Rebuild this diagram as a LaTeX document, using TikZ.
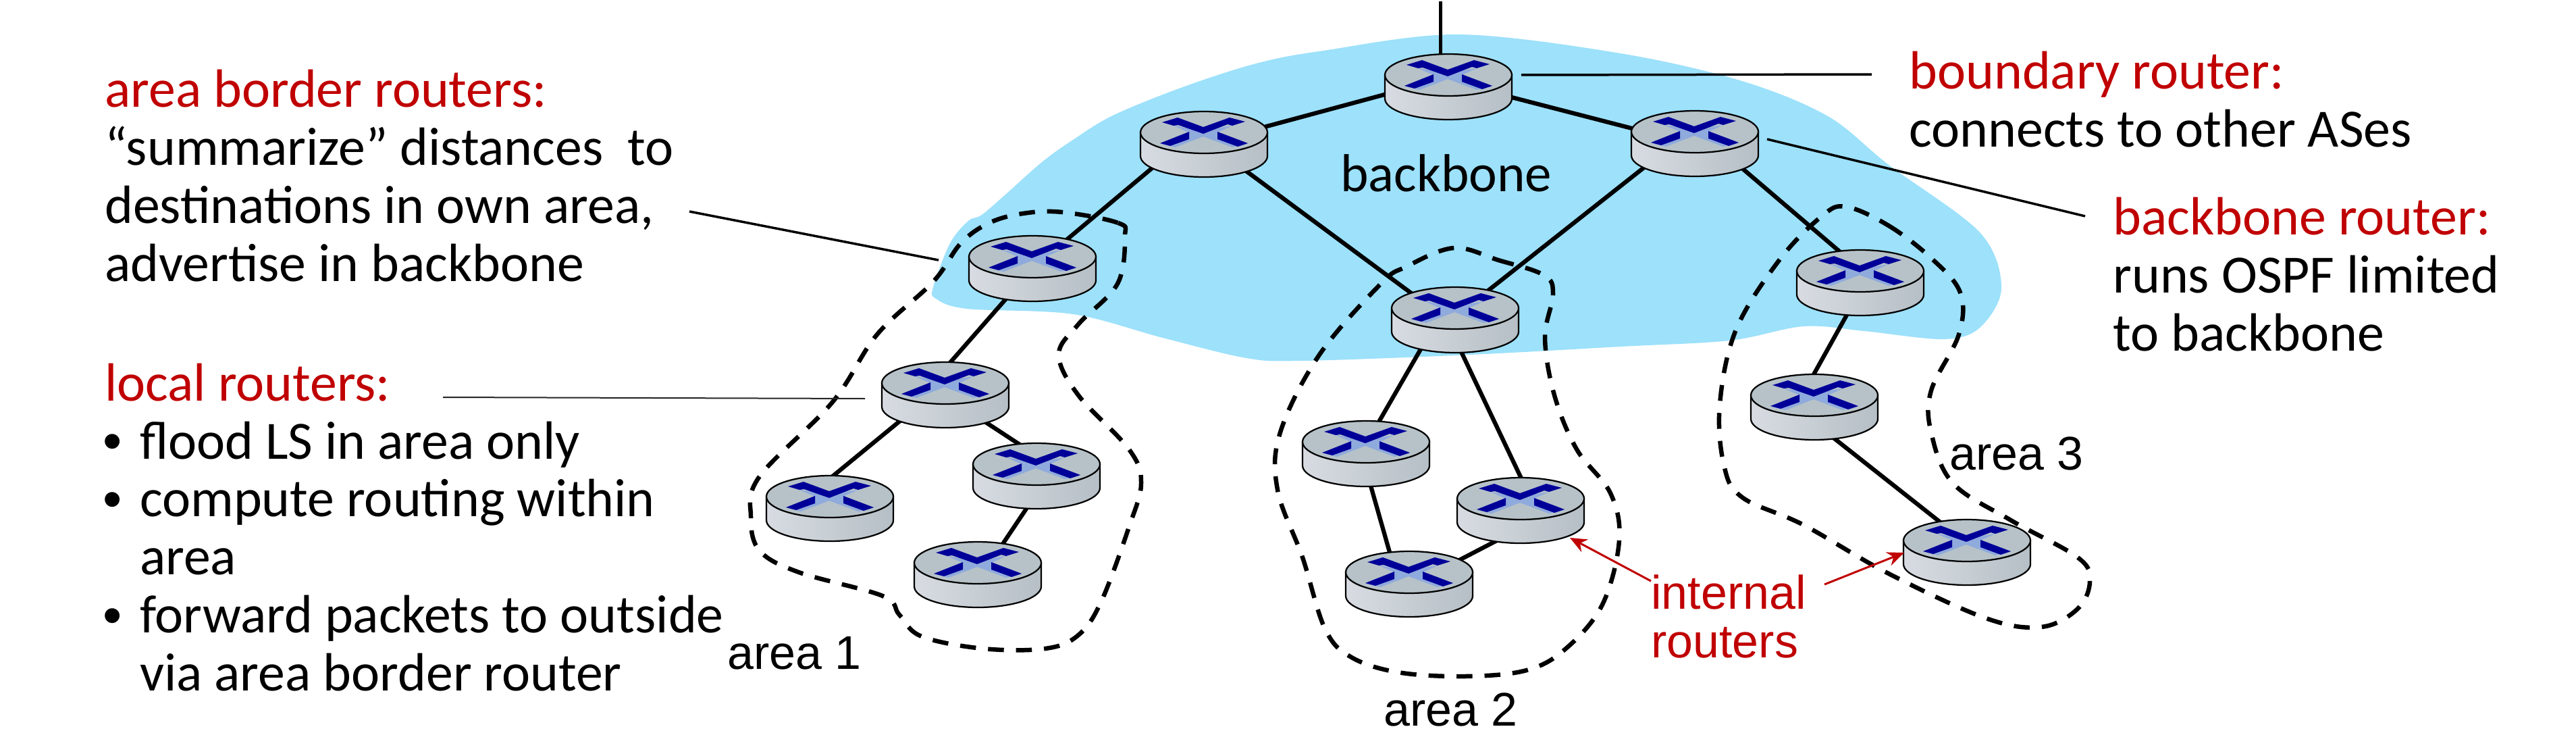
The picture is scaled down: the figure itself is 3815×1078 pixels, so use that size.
\documentclass[tikz,border=0pt]{standalone}
\usepackage{fontspec}
\setmainfont{Carlito}
\newfontfamily\arialf{Liberation Sans}
\usetikzlibrary{arrows.meta}
\definecolor{blobc}{HTML}{9DE1FB}
\definecolor{redt}{HTML}{C00000}
\definecolor{xdark}{HTML}{000099}
\definecolor{xlight}{HTML}{8FAADC}
\definecolor{rtop}{HTML}{B6C2C8}
\definecolor{rleft}{HTML}{D8DCE2}
\definecolor{rright}{HTML}{B5BFC5}
\tikzset{
  txt/.style={anchor=base west,inner sep=0pt,align=left,font=\fontsize{45.4}{48.8}\selectfont},
  lbl/.style={anchor=base west,inner sep=0pt,align=left,font=\arialf\fontsize{39.8}{40.8}\selectfont},
  lnk/.style={line width=0.125cm,black},
  leader/.style={line width=0.07cm,black},
  thinleader/.style={line width=0.04cm,black!85},
  area/.style={line width=0.13cm,black,dash pattern=on 0.47cm off 0.36cm},
  redarrow/.style={line width=0.06cm,redt,-{Stealth[length=0.5cm,width=0.42cm]}},
  rnode/.style={inner sep=0pt,minimum size=0pt}
}
\newcommand{\lk}[6]{\draw[lnk] ([shift={(#2,#3)}]#1.center) -- ([shift={(#5,#6)}]#4.center);}
\newcommand{\router}[3]{%
  \begin{scope}[shift={(#2,#3)}]
    \path[draw=black,line width=0.045cm,left color=rleft,right color=rright]
      (-94,0) -- (-94,35) .. controls (-94,52) and (-52,66) .. (0,66)
      .. controls (52,66) and (94,52) .. (94,35) -- (94,0) -- cycle;
    \path[draw=black,line width=0.045cm,fill=rtop] (0,0) ellipse [x radius=1.88cm,y radius=0.62cm];
    \fill[xlight] (-45,-10) -- (-1,-3) -- (42,-10) -- (20,0) -- (64,17) -- (42,22) -- (-1,6) -- (-43,22) -- (-63,17) -- (-22,0) -- cycle;
    \fill[xdark] (-62,-15) -- (-39,-22) -- (-1,-8) -- (38,-22) -- (61,-16) -- (42,-10) -- (35,-12) -- (-1,2) -- (-38,-11) -- (-45,-10) -- cycle;
    \fill[xdark] (-65,16) -- (-22,-1) -- (-22,10) -- (-50,20) -- cycle;
    \fill[xdark] (20,-1) -- (65,16) -- (50,21) -- (20,10) -- cycle;
  \end{scope}}
\newcommand{\bul}{\hspace*{-1.5pt}\makebox[31pt][l]{\arialf\fontsize{46}{48.8}\selectfont\raisebox{-1pt}{•}}}
\begin{document}
\begin{tikzpicture}[x=0.02cm,y=-0.02cm]
\useasboundingbox (0,0) rectangle (3815,1078);
% backbone blob
\fill[blobc] plot[smooth cycle,tension=0.55] coordinates {
 (2160,51) (2400,79) (2580,120) (2707,172) (2797,244) (2932,344) (2964,426) (2932,485) (2878,502)
 (2761,490) (2671,483) (2562,504) (2400,513) (2178,525) (1929,534) (1846,530) (1722,500) (1589,465)
 (1432,457) (1386,442) (1382,425) (1407,360) (1434,327) (1454,318) (1489,288) (1543,240) (1589,207)
 (1650,170) (1757,127) (1864,93) (1960,75)};
% router anchors
\node[rnode] (T) at (2145,111) {};
\node[rnode] (B) at (1783,196) {};
\node[rnode] (R) at (2510,195) {};
\node[rnode] (A) at (1529,380) {};
\node[rnode] (La) at (1400,567) {};
\node[rnode] (Lb) at (1229,735) {};
\node[rnode] (Lc) at (1535,687) {};
\node[rnode] (Ld) at (1448,833) {};
\node[rnode] (M) at (2155,456) {};
\node[rnode] (Ma) at (2023,654) {};
\node[rnode] (Mb) at (2252,738) {};
\node[rnode] (Mc) at (2087,847) {};
\node[rnode] (C) at (2755,401) {};
\node[rnode] (Ca) at (2687,585) {};
\node[rnode] (Cb) at (2913,800) {};
% links
\coordinate (ext) at (2133,2);
\draw[line width=0.1cm] (ext) -- ([shift={(-12,-20)}]T.center);
\lk{T}{-65}{21}{B}{67}{-2}
\lk{T}{55}{23}{R}{-70}{1}
\lk{B}{-52}{32}{A}{29}{-7}
\lk{B}{42}{42}{M}{-50}{-11}
\lk{R}{-50}{33}{M}{35}{-15}
\lk{R}{50}{37}{C}{-4}{-6}
\lk{A}{-24}{45}{La}{-9}{-12}
\lk{La}{-50}{42}{Lb}{-7}{-21}
\lk{La}{40}{45}{Lc}{-5}{-16}
\lk{Lc}{-3}{48}{Ld}{27}{-13}
\lk{M}{-43}{47}{Ma}{10}{-14}
\lk{M}{3}{52}{Mb}{9}{-13}
\lk{Ma}{3}{51}{Mc}{-24}{-12}
\lk{Mb}{-12}{50}{Mc}{53}{-7}
\lk{C}{-11}{49}{Ca}{-7}{-20}
\lk{Ca}{8}{47}{Cb}{-23}{-14}
% routers
\router{T}{2145}{111}
\router{B}{1783}{196}
\router{R}{2510}{195}
\router{A}{1529}{380}
\router{La}{1400}{567}
\router{Lb}{1229}{735}
\router{Lc}{1535}{687}
\router{Ld}{1448}{833}
\router{M}{2155}{456}
\router{Ma}{2023}{654}
\router{Mb}{2252}{738}
\router{Mc}{2087}{847}
\router{C}{2755}{401}
\router{Ca}{2687}{585}
\router{Cb}{2913}{800}
% dashed areas
\draw[area] plot[smooth cycle,tension=0.6] coordinates {
 (1573,314) (1656,330) (1666,350) (1655,420) (1597,480) (1568,525) (1597,585) (1672,665) (1690,715)
 (1672,780) (1631,890) (1597,940) (1548,960) (1456,960) (1365,942) (1332,910) (1307,882) (1183,847)
 (1125,815) (1112,765) (1125,705) (1233,595) (1299,495) (1382,417) (1423,360) (1465,330) (1515,316)};
\draw[area] plot[smooth cycle,tension=0.6] coordinates {
 (2153,367) (2219,385) (2286,407) (2300,435) (2288,500) (2302,585) (2335,665) (2385,730) (2398,800)
 (2373,895) (2319,960) (2261,992) (2170,1001) (2070,995) (2000,972) (1962,930) (1929,825) (1892,725)
 (1896,640) (1954,525) (2045,420) (2082,395)};
\draw[area] plot[smooth cycle,tension=0.6] coordinates {
 (2734,306) (2797,334) (2860,382) (2903,433) (2901,495) (2860,578) (2860,640) (2892,715) (2978,770)
 (3077,825) (3095,860) (3077,901) (3023,928) (2941,915) (2797,849) (2671,777) (2580,736) (2553,688)
 (2547,598) (2571,488) (2635,385) (2698,320)};
% texts
\node[txt,font=\fontsize{45}{48.8}\selectfont] (tbb) at (1985,283) {backbone};
\node[txt] (tabr) at (155,416) {\textcolor{redt}{area border routers:}\\“summarize” distances\ \ to\\destinations in own area,\\advertise in backbone};
\node[txt] (tloc) at (155,1022) {\textcolor{redt}{local routers:}\\\bul flood LS in area only\\\bul compute routing within\\\hspace*{29.5pt}area\\\bul forward packets to outside\\\hspace*{29.5pt}via area border router};
\node[txt] (tbnd) at (2827,217) {\textcolor{redt}{boundary router:}\\connects to other ASes};
\node[txt] (tbbr) at (3129,519) {\textcolor{redt}{backbone router:}\\runs OSPF limited\\to backbone};
\node[lbl] (ta) at (1077,990) {area 1};
\node[lbl] (tb) at (2049,1074) {area 2};
\node[lbl] (tc) at (2887,695) {area 3};
\node[lbl,text=redt] (tint) at (2445,973) {internal\\routers};
% leaders
\coordinate (abrs) at (1021,313);
\coordinate (abre) at (1390,385);
\draw[leader] (abrs) -- (abre);
\coordinate (locs) at (656,588);
\coordinate (loce) at (1281,590);
\draw[thinleader] (locs) -- (loce);
\coordinate (bnds) at (2253,111);
\coordinate (bnde) at (2772,110);
\draw[leader] (bnds) -- (bnde);
\coordinate (bbs) at (2617,206);
\coordinate (bbe) at (3088,320);
\draw[leader] (bbs) -- (bbe);
\coordinate (ia) at (2445,860);
\coordinate (ib) at (2325,796);
\coordinate (ic) at (2702,865);
\coordinate (id) at (2820,818);
\draw[redarrow] (ia) -- (ib);
\draw[redarrow] (ic) -- (id);
\end{tikzpicture}
\end{document}
